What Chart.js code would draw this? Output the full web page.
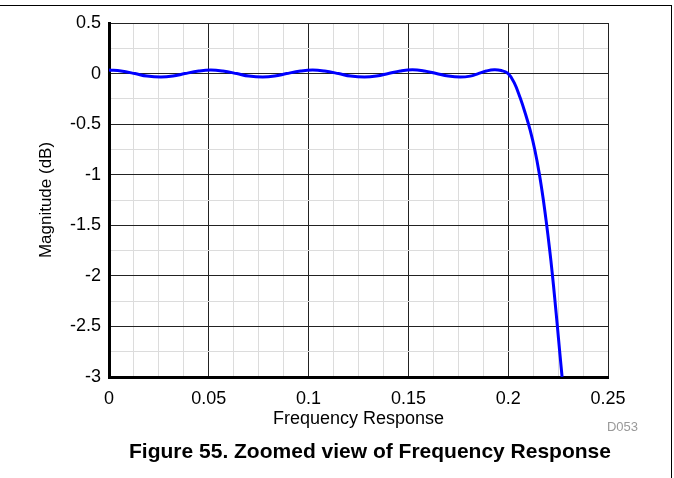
<!DOCTYPE html>
<html>
<head>
<meta charset="utf-8">
<script src="https://cdn.jsdelivr.net/npm/chart.js@4"></script>
<style>
  html, body { margin: 0; padding: 0; background: #fff; }
  #wrap { position: relative; width: 674px; height: 478px; overflow: hidden; font-family: "Liberation Sans", Arial, sans-serif; }
  #frameTop { position: absolute; left: 0; top: 5px; width: 672px; height: 0; border-top: 1px solid #000; }
  #frameRight { position: absolute; left: 671px; top: 5px; width: 0; height: 473px; border-left: 1px solid #000; }
  #cv { position: absolute; left: 0; top: 0; }
  #code { position: absolute; left: 560px; top: 419px; width: 78px; text-align: right; font-size: 13px; line-height: 16px; color: #999; }
  #caption { position: absolute; left: 0; top: 439px; width: 740px; text-align: center; font-size: 21px; line-height: 24px; font-weight: bold; color: #000; }
</style>
</head>
<body>
<div id="wrap">
  <canvas id="cv" width="674" height="478"></canvas>
  <div id="frameTop"></div>
  <div id="frameRight"></div>
  <div id="code">D053</div>
  <div id="caption">Figure 55. Zoomed view of Frequency Response</div>
</div>
<script>
const freq = [0, 0.006, 0.013, 0.019, 0.026, 0.032, 0.038, 0.045, 0.051, 0.057, 0.064, 0.070, 0.077, 0.083, 0.089, 0.096, 0.102, 0.108, 0.115, 0.121, 0.128, 0.134, 0.140, 0.146, 0.152, 0.158, 0.164, 0.170, 0.176, 0.181, 0.185, 0.189, 0.193, 0.1965, 0.200, 0.203, 0.206, 0.2085, 0.211, 0.2134, 0.2155, 0.2174, 0.2191, 0.2207, 0.2221, 0.2234, 0.2246, 0.2258, 0.2270];
const magnitude = [0.035, 0.025, 0.0, -0.025, -0.035, -0.025, 0.0, 0.025, 0.035, 0.025, 0.0, -0.025, -0.035, -0.025, 0.0, 0.025, 0.035, 0.025, 0.0, -0.025, -0.035, -0.025, 0.0, 0.025, 0.037, 0.025, 0.0, -0.025, -0.035, -0.025, 0.0, 0.025, 0.038, 0.03, 0.0, -0.09, -0.24, -0.39, -0.56, -0.76, -0.98, -1.22, -1.47, -1.73, -1.98, -2.24, -2.49, -2.75, -3.0];
const xTickLabels = ["0", "0.05", "0.1", "0.15", "0.2", "0.25"];
const yTickLabels = ["0.5", "0", "-0.5", "-1", "-1.5", "-2", "-2.5", "-3"];

const points = freq.map((f, i) => ({ x: f, y: magnitude[i] }));
const isMajor = (v, step) => Math.abs(v / step - Math.round(v / step)) < 1e-6;
const FONT = '"Liberation Sans", Arial, sans-serif';

new Chart(document.getElementById('cv'), {
  type: 'line',
  data: {
    datasets: [{
      data: points,
      borderColor: '#0000ff',
      borderWidth: 3,
      pointRadius: 0,
      fill: false,
      tension: 0.4
    }]
  },
  options: {
    responsive: false,
    animation: false,
    events: [],
    layout: { padding: { left: 30, right: 66, top: 23, bottom: 48 } },
    plugins: { legend: { display: false }, tooltip: { enabled: false }, title: { display: false } },
    scales: {
      x: {
        type: 'linear',
        min: 0, max: 0.25,
        afterFit: s => { s.height = 53; },
        border: { display: true, color: '#000', width: 3 },
        grid: {
          drawTicks: false,
          color: ctx => isMajor(ctx.tick.value, 0.05) ? '#222' : '#dcdcdc',
          lineWidth: 1
        },
        ticks: {
          stepSize: 0.0125,
          autoSkip: false,
          maxRotation: 0,
          padding: 11,
          color: '#000',
          font: { family: FONT, size: 18 },
          callback: v => isMajor(v, 0.05) ? xTickLabels[Math.round(v / 0.05)] : ''
        },
        title: {
          display: true,
          text: 'Frequency Response',
          color: '#000',
          font: { family: FONT, size: 18 },
          padding: { top: 0, bottom: 0 }
        }
      },
      y: {
        type: 'linear',
        min: -3, max: 0.5,
        afterFit: s => { s.width = 79; },
        border: { display: true, color: '#000', width: 3 },
        grid: {
          drawTicks: false,
          color: ctx => isMajor(ctx.tick.value, 0.5) ? '#222' : '#dcdcdc',
          lineWidth: 1
        },
        ticks: {
          stepSize: 0.25,
          autoSkip: false,
          padding: 8,
          color: '#000',
          font: { family: FONT, size: 18 },
          callback: v => isMajor(v, 0.5) ? yTickLabels[Math.round((0.5 - v) / 0.5)] : ''
        },
        title: {
          display: true,
          text: 'Magnitude (dB)',
          color: '#000',
          font: { family: FONT, size: 17 },
          padding: { top: 6, bottom: 0 }
        }
      }
    }
  }
});
</script>
</body>
</html>
